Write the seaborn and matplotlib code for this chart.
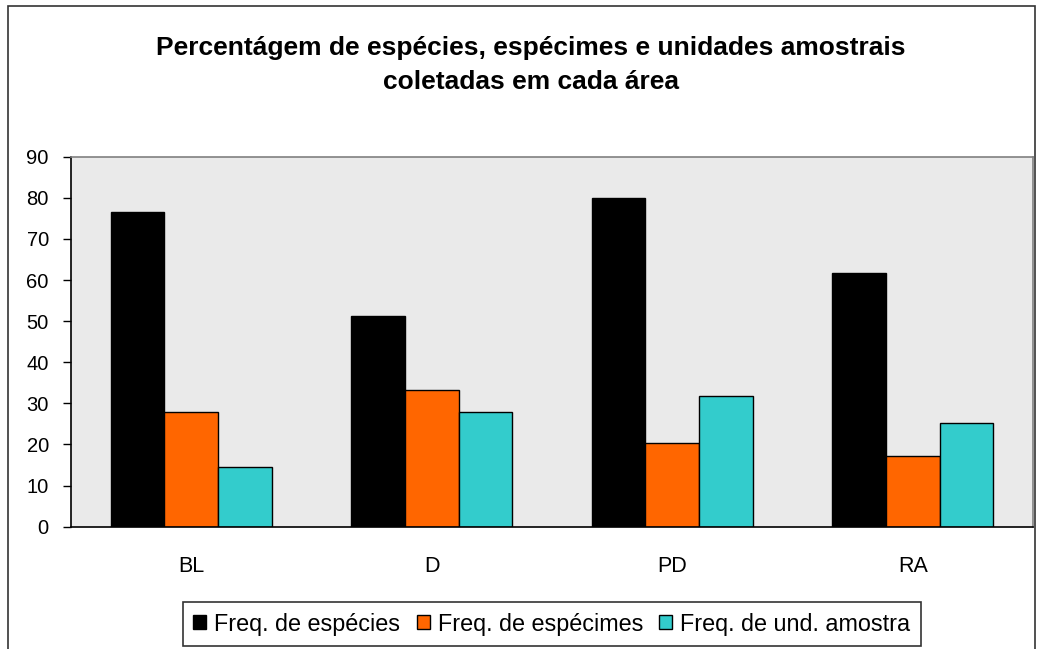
import matplotlib
matplotlib.use("Agg")
import matplotlib.pyplot as plt
import seaborn as sns
import pandas as pd
from matplotlib.patches import Rectangle

areas = ["BL", "D", "PD", "RA"]
series = ["Freq. de espécies", "Freq. de espécimes", "Freq. de und. amostra"]
freq_especies = [76.5, 51.2, 79.9, 61.7]
freq_especimes = [27.8, 33.2, 20.3, 17.2]
freq_unidades = [14.5, 27.9, 31.9, 25.2]
colors = ["#000000", "#FF6600", "#33CCCC"]
yticks = [0, 10, 20, 30, 40, 50, 60, 70, 80, 90]
title = "Percentágem de espécies, espécimes e unidades amostrais\ncoletadas em cada área"

rows = []
for name, vals in zip(series, [freq_especies, freq_especimes, freq_unidades]):
    for a, v in zip(areas, vals):
        rows.append({"area": a, "serie": name, "valor": v})
df = pd.DataFrame(rows)

sns.set_style("white")
plt.rcParams["font.family"] = ["Liberation Sans", "DejaVu Sans"]
plt.rcParams["text.color"] = "black"
plt.rcParams["xtick.color"] = "black"
plt.rcParams["ytick.color"] = "black"
plt.rcParams["xtick.labelcolor"] = "black"
plt.rcParams["ytick.labelcolor"] = "black"

W, H = 1039, 649
fig = plt.figure(figsize=(W / 100, H / 100), dpi=100)
fig.patch.set_facecolor("white")

# outer chart border
fig.add_artist(Rectangle((8 / W, -0.01), (1035 - 8) / W, 1 - 6 / H + 0.01,
                         transform=fig.transFigure, fill=False,
                         edgecolor="#333333", linewidth=1.2))

ax = fig.add_axes([71 / W, (H - 526.7) / H, (1033 - 71) / W, 370 / H])
ax.set_facecolor("#EAEAEA")

sns.barplot(data=df, x="area", y="valor", hue="serie", palette=colors,
            width=0.67, gap=0, edgecolor="black", linewidth=1,
            saturation=1, ax=ax, errorbar=None)

ax.set_xlim(-0.5, 3.5)
ax.set_ylim(0, 90)
ax.set_yticks(yticks)
ax.set_yticklabels([str(t) for t in yticks], fontsize=14.5)
ax.set_xticks(range(len(areas)))
ax.set_xticklabels(areas, fontsize=15.5)
ax.tick_params(axis="x", which="major", length=0, pad=21)
ax.set_xticks([-0.5, 0.5, 1.5, 2.5, 3.5], minor=True)
ax.tick_params(axis="x", which="minor", length=6, width=1, color="black", direction="out")
ax.tick_params(axis="y", length=6, width=1, color="black", direction="out", pad=10, left=True)
ax.set_xlabel("")
ax.set_ylabel("")

for side in ["left", "bottom"]:
    ax.spines[side].set_color("black")
    ax.spines[side].set_linewidth(1.2)
for side in ["top", "right"]:
    ax.spines[side].set_visible(True)
    ax.spines[side].set_color("#808080")
    ax.spines[side].set_linewidth(1.2)

ax.get_legend().remove()
handles = [Rectangle((0, 0), 1, 1, facecolor=c, edgecolor="black", linewidth=1) for c in colors]
leg = fig.legend(handles, series, loc="center", bbox_to_anchor=(552 / W, 1 - 624 / H),
                 ncol=3, frameon=True, fancybox=False, fontsize=16.8,
                 handlelength=0.55, handleheight=0.55, handletextpad=0.35,
                 columnspacing=0.7, borderpad=0.45, borderaxespad=0)
leg.get_frame().set_edgecolor("black")
leg.get_frame().set_linewidth(1.2)

fig.text(531 / W, 1 - 65 / H, title, ha="center", va="center", color="black",
         fontsize=19, fontweight="bold", linespacing=1.55)

fig.savefig("out.png", dpi=100)
